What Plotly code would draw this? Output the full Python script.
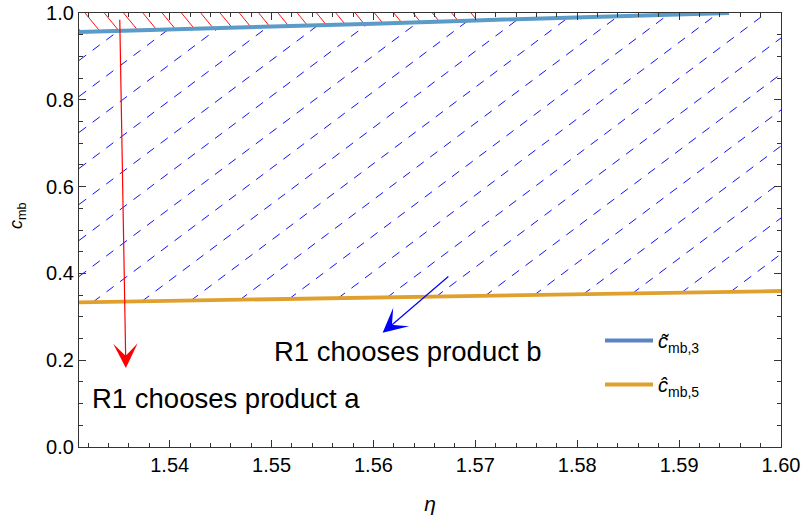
import numpy as np
import plotly.graph_objects as go

# ---------------- data ----------------
eta_blue = [1.5311, 1.540, 1.550, 1.560, 1.570, 1.580, 1.590, 1.5949]
c_blue = [0.956, 0.9615, 0.968, 0.9755, 0.983, 0.990, 0.9965, 1.0]

eta_orange = [1.5311, 1.540, 1.550, 1.560, 1.570, 1.580, 1.590, 1.600]
c_orange = [0.3334, 0.3366, 0.340, 0.3435, 0.347, 0.351, 0.355, 0.3594]

red_region_eta_max = 1.5700

x_range = [1.5311, 1.600]
y_range = [0.0, 1.0]
x_ticks = [1.54, 1.55, 1.56, 1.57, 1.58, 1.59, 1.60]
y_ticks = [0.0, 0.2, 0.4, 0.6, 0.8, 1.0]

legend_names = ["<i>c\u0303</i><sub>mb,3</sub>", "<i>c\u0302</i><sub>mb,5</sub>"]
label_a = "R1 chooses product a"
label_b = "R1 chooses product b"
x_title = "<i>η</i>"
y_title = "<i>c</i><sub>mb</sub>"

# arrow (tail -> head) and label positions in data units
arrow_a = dict(tail=(1.5351, 0.988), head=(1.5357, 0.182))
arrow_b = dict(tail=(1.5675, 0.396), head=(1.5609, 0.263))
text_a_pos = (1.5455, 0.112)
text_b_pos = (1.5634, 0.219)

# ---------------- layout geometry ----------------
W, H = 804, 519
M = dict(l=79, r=23, t=13, b=72)
PW = W - M["l"] - M["r"]
PH = H - M["t"] - M["b"]

FONT = "Liberation Sans, Arial, sans-serif"
BLUE = "#5a9bc8"
BLUE_LEG = "#5a84c3"
ORANGE = "#e0a02d"

# ---------------- hatch computation (derived from the boundary curves) ----------------
u_grid = np.linspace(0, PW, 5000)
x_grid = x_range[0] + u_grid / PW * (x_range[1] - x_range[0])
lower_v = (np.interp(x_grid, eta_orange, c_orange) - y_range[0]) / (y_range[1] - y_range[0]) * PH
blue_v = (np.interp(x_grid, eta_blue, c_blue, right=1.0) - y_range[0]) / (y_range[1] - y_range[0]) * PH
upper_v = np.minimum(blue_v, PH)


def runs(mask):
    m = np.concatenate([[0], mask.astype(int), [0]])
    d = np.diff(m)
    starts = np.where(d == 1)[0]
    ends = np.where(d == -1)[0] - 1
    return list(zip(starts, ends))


def to_data(u, v):
    x = x_range[0] + u / PW * (x_range[1] - x_range[0])
    y = y_range[0] + v / PH * (y_range[1] - y_range[0])
    return x, y


# blue dashed hatch between orange curve and blue curve (screen-space pattern)
b_slope, b_step, b_u0, b_v0 = 0.75, 48.0, 3.3, 317.0
b_ref = b_u0 - b_v0 / b_slope
bx, by = [], []
for k in range(-60, 60):
    uk = b_ref + k * b_step
    v = b_slope * (u_grid - uk)
    mask = (v >= lower_v) & (v <= upper_v)
    for s, e in runs(mask):
        if e <= s:
            continue
        x0, y0 = to_data(u_grid[s], v[s])
        x1, y1 = to_data(u_grid[e], v[e])
        bx += [x0, x1, None]
        by += [y0, y1, None]

# red hatch between blue curve and top
r_slope, r_step, r_u0 = 1.22, 19.3, 6.0
rx, ry = [], []
for k in range(-20, 60):
    wk = r_u0 + k * r_step
    v = PH - r_slope * (u_grid - wk)
    mask = (v >= blue_v) & (v <= PH) & (x_grid <= red_region_eta_max)
    for s, e in runs(mask):
        if e <= s:
            continue
        x0, y0 = to_data(u_grid[s], v[s])
        x1, y1 = to_data(u_grid[e], v[e])
        rx += [x0, x1, None]
        ry += [y0, y1, None]

# ---------------- figure ----------------
fig = go.Figure()
fig.add_trace(go.Scatter(x=bx, y=by, mode="lines", showlegend=False, hoverinfo="skip",
                         line=dict(color="#1010ff", width=1, dash="9px,8px")))
fig.add_trace(go.Scatter(x=rx, y=ry, mode="lines", showlegend=False, hoverinfo="skip",
                         line=dict(color="#ff1010", width=1)))
fig.add_trace(go.Scatter(x=eta_orange, y=c_orange, mode="lines", showlegend=False,
                         line=dict(color=ORANGE, width=3.8)))
fig.add_trace(go.Scatter(x=eta_blue, y=c_blue, mode="lines", showlegend=False,
                         line=dict(color=BLUE, width=4)))
# legend entries
fig.add_trace(go.Scatter(x=[None], y=[None], mode="lines", name=legend_names[0], legendgroup="a",
                         line=dict(color=BLUE_LEG, width=4)))
fig.add_trace(go.Scatter(x=[None], y=[None], mode="lines", name=legend_names[1], legendgroup="b",
                         line=dict(color=ORANGE, width=4)))

annotations = []
for arr, col in [(arrow_a, "#ff0000"), (arrow_b, "#0000ff")]:
    annotations.append(dict(x=arr["head"][0], y=arr["head"][1], ax=arr["tail"][0], ay=arr["tail"][1],
                            xref="x", yref="y", axref="x", ayref="y", text="", showarrow=True,
                            arrowhead=3, arrowsize=3.4, arrowwidth=1.2, arrowcolor=col))
annotations.append(dict(x=text_a_pos[0], y=text_a_pos[1], xref="x", yref="y", text=label_a,
                        showarrow=False, font=dict(size=27.5, color="black", family=FONT)))
annotations.append(dict(x=text_b_pos[0], y=text_b_pos[1], xref="x", yref="y", text=label_b,
                        showarrow=False, font=dict(size=27.5, color="black", family=FONT)))
# y-axis title
annotations.append(dict(x=(17 - M["l"]) / PW, y=(M["t"] + PH - 216) / PH, xref="paper", yref="paper",
                        xanchor="center", yanchor="middle",
                        text=y_title, textangle=-90, showarrow=False,
                        font=dict(size=18, color="black", family=FONT)))

axis_common = dict(showgrid=False, zeroline=False, showline=True, linecolor="#333333", linewidth=1.3,
                   mirror="allticks", ticks="inside", ticklen=7, tickwidth=1.2, tickcolor="#333333",
                   automargin=False, tickfont=dict(size=20, color="black", family=FONT))

fig.update_layout(
    width=W, height=H, margin=M,
    paper_bgcolor="white", plot_bgcolor="white",
    font=dict(family=FONT, color="black"),
    xaxis=dict(range=x_range, tickvals=x_ticks, tickformat=".2f",
               title=dict(text=x_title, font=dict(size=21), standoff=21),
               minor=dict(ticks="inside", dtick=0.002, tick0=1.54, ticklen=3.5, tickwidth=1,
                          tickcolor="#333333", showgrid=False),
               **axis_common),
    yaxis=dict(range=y_range, tickvals=y_ticks, tickformat=".1f",
               minor=dict(ticks="inside", dtick=0.05, tick0=0, ticklen=4, tickwidth=1,
                          tickcolor="#333333", showgrid=False),
               **axis_common),
    legend=dict(x=(600 - M["l"]) / PW, y=(M["t"] + PH - 321) / PH, xanchor="left", yanchor="top",
                bgcolor="rgba(0,0,0,0)", font=dict(size=20, family=FONT), itemwidth=48,
                tracegroupgap=15, traceorder="grouped"),
    annotations=annotations,
)

fig.write_html("out.html")
